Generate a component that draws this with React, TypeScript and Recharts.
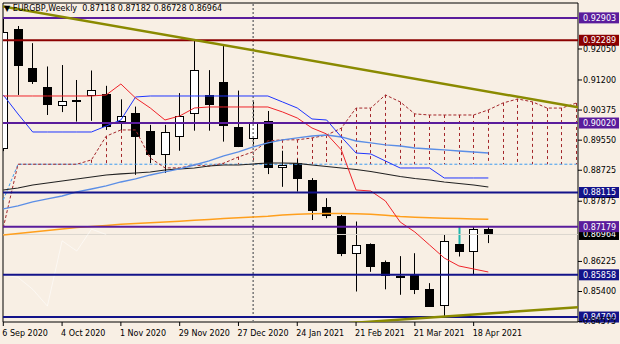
import React from "react";
import { ComposedChart, Bar, Line, XAxis, YAxis, ReferenceLine, ReferenceArea } from "recharts";

// weekly bars, 6 Sep 2020 .. 25 Apr 2021
const tickIdx = [0, 4, 8, 12, 16, 20, 24, 28, 32];
const tickLabels = ["6 Sep 2020", "4 Oct 2020", "1 Nov 2020", "29 Nov 2020", "27 Dec 2020", "24 Jan 2021", "21 Feb 2021", "21 Mar 2021", "18 Apr 2021"];
const priceTicks = [0.9205, 0.912, 0.90375, 0.8955, 0.88725, 0.87875, 0.86225, 0.854, 0.84575];

const opens = [0.8934, 0.926, 0.9154, 0.91, 0.9052, 0.9066, 0.9079, 0.9081, 0.9008, 0.903, 0.898, 0.8917, 0.8966, 0.9029, 0.9078, 0.9115, 0.8992, 0.896, 0.9008, 0.8881, 0.8893, 0.8846, 0.8771, 0.8748, 0.8645, 0.867, 0.8622, 0.8583, 0.8585, 0.8546, 0.8503, 0.867, 0.8652, 0.87118];
const highs = [0.929, 0.9268, 0.9221, 0.9157, 0.9161, 0.912, 0.9146, 0.9104, 0.9067, 0.9047, 0.8997, 0.8997, 0.9084, 0.9229, 0.9147, 0.9216, 0.9091, 0.9061, 0.9035, 0.8926, 0.8903, 0.8851, 0.8796, 0.875, 0.8732, 0.8672, 0.8625, 0.8637, 0.8645, 0.8563, 0.8695, 0.8717, 0.8718, 0.87182];
const lows = [0.8925, 0.9079, 0.9109, 0.9024, 0.9032, 0.9006, 0.9008, 0.8983, 0.8983, 0.886, 0.8892, 0.8865, 0.8926, 0.8981, 0.8981, 0.8951, 0.8936, 0.8937, 0.8862, 0.8827, 0.8814, 0.8736, 0.8741, 0.8637, 0.854, 0.8594, 0.8546, 0.8531, 0.8533, 0.8498, 0.8471, 0.8636, 0.8586, 0.86728];
const closes = [0.9252, 0.9161, 0.9118, 0.9053, 0.9063, 0.9063, 0.9093, 0.8994, 0.9021, 0.8966, 0.8917, 0.8978, 0.9021, 0.9147, 0.9054, 0.8997, 0.894, 0.9003, 0.8881, 0.8888, 0.8851, 0.8764, 0.875, 0.8645, 0.8668, 0.861, 0.8585, 0.8579, 0.8546, 0.85, 0.8679, 0.8651, 0.8711, 0.86964];
const markedBar = 31;

const tenkan = [0.90761, 0.90761, 0.90761, 0.90761, 0.90761, 0.90761, 0.90761, 0.90789, 0.9109, 0.90706, 0.90432, 0.90103, 0.90213, 0.90432, 0.9046, 0.9046, 0.9046, 0.9046, 0.9046, 0.90323, 0.90158, 0.89884, 0.89719, 0.89281, 0.88184, 0.88156, 0.87882, 0.87306, 0.87032, 0.86676, 0.86319, 0.861, 0.86018, 0.85935];
const kijun = [0.90789, 0.90268, 0.89774, 0.89774, 0.89774, 0.89774, 0.89774, 0.89939, 0.90103, 0.90734, 0.90761, 0.90761, 0.90761, 0.90761, 0.90761, 0.90761, 0.90761, 0.90761, 0.90761, 0.90597, 0.90432, 0.90131, 0.90103, 0.89637, 0.89198, 0.89171, 0.88979, 0.88787, 0.88787, 0.88787, 0.88513, 0.88513, 0.88513, 0.88513];
const spanA = [0.8715, 0.8889, 0.8889, 0.8889, 0.8889, 0.8889, 0.8901, 0.8966, 0.8983, 0.8983, 0.8906, 0.8879, 0.8879, 0.8887, 0.8884, 0.8892, 0.8909, 0.8923, 0.8953, 0.8956, 0.8956, 0.8961, 0.8969, 0.8988, 0.9043, 0.9043, 0.9079, 0.906, 0.9027, 0.9024, 0.9024, 0.9024, 0.9024, 0.9038, 0.9057, 0.9068, 0.906, 0.9043, 0.9043, 0.9057];
const spanB = [0.8791, 0.8889, 0.8889, 0.8889, 0.8889, 0.8889, 0.8889, 0.8889, 0.8889, 0.8889, 0.8889, 0.8889, 0.8889, 0.8889, 0.8889, 0.8889, 0.8889, 0.8889, 0.8889, 0.8889, 0.8889, 0.8889, 0.8889, 0.8889, 0.8889, 0.8889, 0.8889, 0.8889, 0.8889, 0.8889, 0.8889, 0.8889, 0.8889, 0.8889, 0.8889, 0.8889, 0.8889, 0.8889, 0.8889, 0.8889];
const chikou = [0.8585, 0.8579, 0.8546, 0.85, 0.8679, 0.8651, 0.8711, 0.86964];
const maBlue = [0.87663, 0.87745, 0.87855, 0.87937, 0.88019, 0.88129, 0.88211, 0.88294, 0.88403, 0.88486, 0.88595, 0.88678, 0.8876, 0.88869, 0.88979, 0.89116, 0.89226, 0.89363, 0.89473, 0.89555, 0.8961, 0.89664, 0.89692, 0.89637, 0.89527, 0.89473, 0.89418, 0.8939, 0.89335, 0.89308, 0.89281, 0.89253, 0.89226, 0.89198];
const maBlack = [0.88184, 0.88239, 0.88321, 0.88376, 0.88431, 0.88485, 0.8854, 0.88595, 0.88623, 0.8865, 0.88677, 0.88732, 0.8876, 0.88787, 0.88842, 0.88869, 0.88869, 0.88897, 0.88924, 0.88924, 0.88911, 0.88869, 0.88828, 0.88787, 0.88746, 0.88691, 0.88623, 0.88554, 0.88499, 0.88458, 0.88403, 0.88362, 0.88321, 0.88266];
const maOrange = [0.8695, 0.86991, 0.87032, 0.87073, 0.87114, 0.87156, 0.87183, 0.8721, 0.87243, 0.87265, 0.87287, 0.87306, 0.87328, 0.87353, 0.87375, 0.874, 0.87422, 0.87444, 0.87465, 0.87498, 0.8752, 0.87531, 0.87539, 0.87539, 0.87531, 0.87517, 0.87493, 0.87454, 0.87438, 0.87424, 0.87411, 0.874, 0.87389, 0.8738];

const levels = [0.92903, 0.92289, 0.9002, 0.88115, 0.87179, 0.85858, 0.847];
const lastPrice = 0.86964;
const trendDown = [{ x: -0.5, y: 0.9325 }, { x: 39.1, y: 0.9045 }];
const trendUp = [{ x: 22, y: 0.8449 }, { x: 39.1, y: 0.84969 }];
const yearSep = 17;

const data = spanA.map((a, i) => ({
  i,
  open: opens[i] ?? null,
  high: highs[i] ?? null,
  low: lows[i] ?? null,
  close: closes[i] ?? null,
  tenkan: tenkan[i] ?? null,
  kijun: kijun[i] ?? null,
  spanA: a,
  spanB: spanB[i],
  chikou: chikou[i] ?? null,
  maBlue: maBlue[i] ?? null,
  maBlack: maBlack[i] ?? null,
  maOrange: maOrange[i] ?? null,
}));

const BG = "#f8efe4";
const FONT = "'DejaVu Sans', sans-serif";
const levelColor = ["#5a1c9c", "#8b0000", "#5a1c9c", "#13138a", "#5a1c9c", "#13138a", "#13138a"];

function Candle(props: any) {
  const { x, y, width, height, payload } = props;
  if (payload == null || payload.open == null || height == null) return null;
  const { open, close, high, low } = payload;
  const top = Math.min(y, y + height);
  const bot = Math.max(y, y + height);
  const py = (p: number) => top + ((high - p) / (high - low)) * (bot - top);
  const cx = Math.floor(x + width / 2) + 0.5;
  const up = close >= open;
  const bTop = Math.round(py(Math.max(open, close))) + 0.5;
  const bBot = Math.max(Math.round(py(Math.min(open, close))) + 0.5, bTop + 1);
  const left = Math.round(x) + 0.5;
  const teal = payload.i === markedBar;
  return (
    <g>
      <line x1={cx} x2={cx} y1={top} y2={bTop} stroke={teal ? "#1fb5ad" : "#000"} strokeWidth={teal ? 2 : 1} />
      <line x1={cx} x2={cx} y1={bBot} y2={bot} stroke="#000" />
      <rect x={left} y={bTop} width={Math.round(width) - 1} height={bBot - bTop} fill={up ? "#fff" : "#000"} stroke="#000" />
    </g>
  );
}

function Hatch(props: any) {
  const { x, y, width, height } = props;
  if (height == null || Math.abs(height) < 1) return null;
  const cx = Math.floor(x + width / 2) + 0.5;
  return <line x1={cx} x2={cx} y1={y} y2={y + height} stroke="#a3262a" strokeDasharray="3 3" />;
}

function PriceTag(props: any) {
  const { viewBox, value, fill } = props;
  if (!viewBox) return null;
  const bx = viewBox.x + viewBox.width + 1;
  const by = viewBox.y;
  return (
    <g>
      <rect x={bx} y={by - 5.5} width={40} height={11} fill={fill} />
      <text x={bx + 4} y={by + 3} fill="#fff" fontSize={8} fontFamily={FONT}>
        {value.toFixed(5)}
      </text>
    </g>
  );
}

function DateTick(props: any) {
  const { x, y, payload } = props;
  const k = tickIdx.indexOf(payload.value);
  return (
    <text x={x - 1} y={y + 8} textAnchor="start" fill="#000" fontSize={8} fontFamily={FONT}>
      {tickLabels[k] ?? ""}
    </text>
  );
}

export default function App() {
  return (
    <div style={{ position: "fixed", left: 0, top: 0, width: 620, height: 344, background: BG, fontFamily: FONT }}>
      <ComposedChart width={620} height={344} data={data} margin={{ top: 3, right: 0, left: 3, bottom: 0 }}>
        <XAxis
          xAxisId={0}
          dataKey="i"
          type="number"
          domain={[-0.02, 39.1]}
          allowDataOverflow
          ticks={tickIdx}
          tick={<DateTick />}
          tickSize={4}
          tickMargin={2}
          tickLine={{ stroke: "#000" }}
          axisLine={false}
          height={22}
          interval={0}
        />
        <XAxis xAxisId="h" dataKey="i" type="number" domain={[-0.02, 39.1]} allowDataOverflow hide />
        <YAxis
          orientation="right"
          type="number"
          domain={[0.84564, 0.93311]}
          allowDataOverflow
          ticks={priceTicks}
          tickFormatter={(v: number) => v.toFixed(5)}
          tick={{ fill: "#000", fontSize: 8, fontFamily: FONT }}
          tickSize={4}
          tickMargin={1}
          tickLine={{ stroke: "#000" }}
          axisLine={false}
          width={42}
          interval={0}
        />
        <ReferenceArea x1={-0.02} x2={39.1} y1={0.84564} y2={0.93311} fill="none" stroke="#000" ifOverflow="visible" />

        <Bar
          xAxisId="h"
          dataKey={(d: any) => (d.spanA - d.spanB > 0.0002 ? [d.spanB, d.spanA] : null)}
          barSize={1}
          shape={<Hatch />}
          isAnimationActive={false}
        />
        <Line dataKey="spanB" stroke="#3d9bf0" strokeDasharray="3 2" dot={false} isAnimationActive={false} />
        <Line dataKey="spanA" stroke="#a3262a" strokeDasharray="3 2" dot={false} isAnimationActive={false} />

        <ReferenceLine x={yearSep} stroke="#777" strokeWidth={1.5} strokeDasharray="2 2" />
        <ReferenceLine y={lastPrice} stroke="#dcd6ce" label={<PriceTag value={lastPrice} fill="#000" />} />

        <Line dataKey="chikou" stroke="#ffffff" strokeOpacity={0.55} dot={false} isAnimationActive={false} />
        <Line dataKey="maOrange" stroke="#ff9f1c" strokeWidth={1.5} dot={false} isAnimationActive={false} />
        <Line dataKey="maBlack" stroke="#222" strokeWidth={1.2} dot={false} isAnimationActive={false} />
        <Line dataKey="maBlue" stroke="#5b8ee6" strokeWidth={1.3} dot={false} isAnimationActive={false} />
        <Line dataKey="kijun" stroke="#1f35ff" dot={false} isAnimationActive={false} />
        <Line dataKey="tenkan" stroke="#f0242a" dot={false} isAnimationActive={false} />

        {levels.map((v, k) => (
          <ReferenceLine key={v} y={v} stroke={levelColor[k]} strokeWidth={2} label={<PriceTag value={v} fill={levelColor[k]} />} />
        ))}

        <ReferenceLine segment={trendDown} stroke="#8a8a00" strokeWidth={2.5} ifOverflow="hidden" />
        <ReferenceLine segment={trendUp} stroke="#8a8a00" strokeWidth={2.5} ifOverflow="hidden" />

        <Bar
          dataKey={(d: any) => (d.low == null ? null : [d.low, d.high])}
          barSize={9}
          shape={<Candle />}
          isAnimationActive={false}
        />
      </ComposedChart>
      <div style={{ position: "absolute", left: 4, top: 4, fontSize: 8, lineHeight: "10px", color: "#000", whiteSpace: "pre" }}>
        {"▼ EURGBP,Weekly  0.87118 0.87182 0.86728 0.86964"}
      </div>
    </div>
  );
}
